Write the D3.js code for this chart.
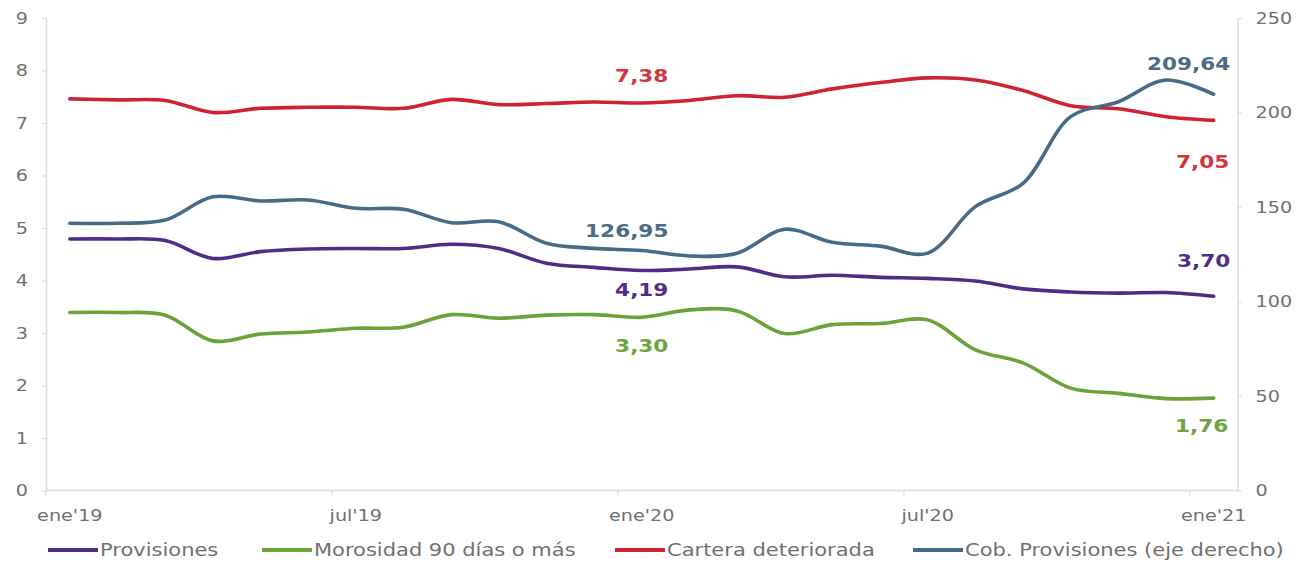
<!DOCTYPE html>
<html>
<head>
<meta charset="utf-8">
<script src="https://cdn.jsdelivr.net/npm/d3@7"></script>
<style>
  html, body { margin: 0; padding: 0; background: #ffffff; }
  svg { display: block; }
</style>
</head>
<body>
<svg id="chart" width="1312" height="561"></svg>
<script>
// Monthly categories, January 2019 to January 2021
const months = [
  "ene'19", "feb'19", "mar'19", "abr'19", "may'19", "jun'19",
  "jul'19", "ago'19", "sep'19", "oct'19", "nov'19", "dic'19",
  "ene'20", "feb'20", "mar'20", "abr'20", "may'20", "jun'20",
  "jul'20", "ago'20", "sep'20", "oct'20", "nov'20", "dic'20",
  "ene'21"
];
const tickMonths = ["ene'19", "jul'19", "ene'20", "jul'20", "ene'21"];

// Left-axis series (%)
const provisiones = [4.79, 4.79, 4.76, 4.42, 4.55, 4.60, 4.61, 4.61, 4.69, 4.61, 4.33, 4.25,
                     4.19, 4.22, 4.26, 4.07, 4.10, 4.06, 4.04, 3.99, 3.84, 3.78, 3.76, 3.77, 3.70];
const morosidad   = [3.39, 3.39, 3.34, 2.85, 2.98, 3.02, 3.09, 3.11, 3.35, 3.28, 3.34, 3.35,
                     3.30, 3.44, 3.42, 2.99, 3.16, 3.18, 3.25, 2.68, 2.43, 1.95, 1.85, 1.75, 1.76];
const cartera     = [7.46, 7.44, 7.43, 7.20, 7.28, 7.30, 7.30, 7.28, 7.45, 7.35, 7.37, 7.40,
                     7.38, 7.43, 7.52, 7.49, 7.65, 7.77, 7.86, 7.82, 7.62, 7.33, 7.27, 7.12, 7.05];
// Right-axis series (%)
const cobertura   = [141.4, 141.4, 143.1, 155.4, 153.2, 153.7, 149.3, 148.8, 141.7, 142.2, 130.8, 128.1,
                     126.95, 124.1, 125.5, 138.2, 131.3, 129.3, 125.6, 150.2, 162.5, 197.8, 205.7, 217.2, 209.64];

const leftTicks  = [0, 1, 2, 3, 4, 5, 6, 7, 8, 9];
const rightTicks = [0, 50, 100, 150, 200, 250];

const seriesNames = ["Provisiones", "Morosidad 90 días o más", "Cartera deteriorada", "Cob. Provisiones (eje derecho)"];

// Styling
const colors = {
  provisiones: "#4f2c85",
  morosidad: "#6ba23a",
  cartera: "#cf2232",
  cobertura: "#476b85"
};
const labelColors = {
  provisiones: "#4f2e87",
  morosidad: "#6ca53d",
  cartera: "#d2353f",
  cobertura: "#4b6b84"
};
const axisColor = "#dcdcdc";
const textColor = "#707070";
const fontFamily = "'DejaVu Sans', Verdana, sans-serif";
const hStretch = 1.2;

const svg = d3.select("#chart");

const x = d3.scaleBand().domain(months).range([46, 1237.5]).padding(0);
const xc = m => x(m) + x.bandwidth() / 2;
const yL = d3.scaleLinear().domain([0, 9]).range([490.5, 18]);
const yR = d3.scaleLinear().domain([0, 250]).range([490.5, 18]);

// widen glyphs horizontally around each text's anchor point
function widen(sel) {
  sel.each(function () {
    const t = d3.select(this);
    const tx = +t.attr("x") || 0;
    const ty = +t.attr("y") || 0;
    t.attr("x", null).attr("y", null)
     .attr("transform", `translate(${tx},${ty}) scale(${hStretch},1)`);
  });
}

// Left axis
const gL = svg.append("g").attr("transform", "translate(46,0)")
  .call(d3.axisLeft(yL).tickValues(leftTicks).tickSize(4).tickPadding(14).tickSizeOuter(0));
// Right axis
const gR = svg.append("g").attr("transform", "translate(1237.5,0)")
  .call(d3.axisRight(yR).tickValues(rightTicks).tickSize(4).tickPadding(14).tickSizeOuter(0));

[gL, gR].forEach(g => {
  g.select(".domain").attr("stroke", axisColor).attr("stroke-width", 1.5);
  g.selectAll(".tick line").attr("stroke", axisColor).attr("stroke-width", 1.2);
  g.selectAll(".tick text")
    .attr("fill", textColor)
    .attr("font-family", fontFamily)
    .attr("font-size", 16)
    .call(widen);
});

// Bottom category axis: tick marks at band edges, labels on band centres
const gB = svg.append("g");
gB.append("line")
  .attr("x1", x.range()[0]).attr("x2", x.range()[1])
  .attr("y1", yL(0)).attr("y2", yL(0))
  .attr("stroke", axisColor).attr("stroke-width", 1.5);
gB.selectAll("line.tk").data(tickMonths).join("line")
  .attr("class", "tk")
  .attr("x1", d => x(d)).attr("x2", d => x(d))
  .attr("y1", yL(0)).attr("y2", yL(0) + 5)
  .attr("stroke", axisColor).attr("stroke-width", 1.2);
gB.selectAll("text").data(tickMonths).join("text")
  .attr("x", d => xc(d)).attr("y", yL(0) + 30)
  .attr("text-anchor", "middle")
  .attr("fill", textColor)
  .attr("font-family", fontFamily)
  .attr("font-size", 16)
  .text(d => d)
  .call(widen);

// Series lines
const series = [
  { key: "provisiones", values: provisiones, scale: yL },
  { key: "morosidad", values: morosidad, scale: yL },
  { key: "cartera", values: cartera, scale: yL },
  { key: "cobertura", values: cobertura, scale: yR }
];

const plotOrder = ["provisiones", "morosidad", "cartera", "cobertura"];
plotOrder.forEach(k => {
  const s = series.find(d => d.key === k);
  const line = d3.line()
    .x((v, i) => xc(months[i]))
    .y(v => s.scale(v))
    .curve(d3.curveCatmullRom.alpha(0.5));
  svg.append("path")
    .datum(s.values)
    .attr("d", line)
    .attr("fill", "none")
    .attr("stroke", colors[k])
    .attr("stroke-width", 3.6)
    .attr("stroke-linejoin", "round")
    .attr("stroke-linecap", "round");
});

// Data labels: which point each one states, and where it sits relative to it
const dataLabels = [
  { key: "cartera", month: "ene'20", dx: 0, dy: -21 },
  { key: "cobertura", month: "ene'20", dx: -15, dy: -14 },
  { key: "provisiones", month: "ene'20", dx: 0, dy: 25 },
  { key: "morosidad", month: "ene'20", dx: 0, dy: 35 },
  { key: "cobertura", month: "ene'21", dx: -25, dy: -24 },
  { key: "cartera", month: "ene'21", dx: -11, dy: 48 },
  { key: "provisiones", month: "ene'21", dx: -10, dy: -29 },
  { key: "morosidad", month: "ene'21", dx: -12, dy: 34 }
];
const fmt = v => d3.format(".2f")(v).replace(".", ",");

svg.append("g").selectAll("text").data(dataLabels).join("text")
  .attr("x", d => xc(d.month) + d.dx)
  .attr("y", d => {
    const s = series.find(e => e.key === d.key);
    return s.scale(s.values[months.indexOf(d.month)]) + d.dy;
  })
  .attr("text-anchor", "middle")
  .attr("fill", d => labelColors[d.key])
  .attr("font-family", fontFamily)
  .attr("font-weight", "bold")
  .attr("font-size", 18)
  .text(d => {
    const s = series.find(e => e.key === d.key);
    return fmt(s.values[months.indexOf(d.month)]);
  })
  .call(widen);

// Legend
const legendX = [48, 262, 615, 913];
const legendY = 550;
const lg = svg.append("g");
plotOrder.forEach((k, i) => {
  const item = lg.append("g").attr("transform", `translate(${legendX[i]},${legendY})`);
  item.append("line")
    .attr("x1", 0).attr("x2", 50).attr("y1", 0).attr("y2", 0)
    .attr("stroke", colors[k]).attr("stroke-width", 4);
  item.append("text")
    .attr("x", 52).attr("y", 5.5)
    .attr("fill", textColor)
    .attr("font-family", fontFamily)
    .attr("font-size", 17.5)
    .text(seriesNames[i])
    .call(widen);
});
</script>
</body>
</html>
